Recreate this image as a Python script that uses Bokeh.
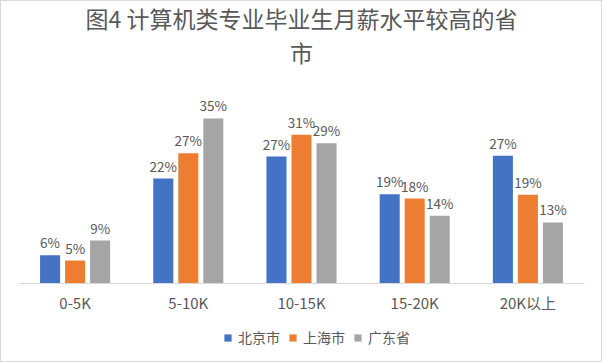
from bokeh.plotting import figure
from bokeh.layouts import column
from bokeh.models import ColumnDataSource, FactorRange, Range1d, Title, Legend, LegendItem
from bokeh.transform import dodge
from bokeh.core.properties import value
from bokeh.embed import file_html
from bokeh.resources import INLINE

categories = ["0-5K", "5-10K", "10-15K", "15-20K", "20K以上"]
series_names = ["北京市", "上海市", "广东省"]
beijing = [5.9, 22.0, 26.6, 18.7, 26.8]
shanghai = [4.8, 27.3, 31.2, 17.8, 18.6]
guangdong = [9.0, 34.6, 29.4, 14.2, 12.8]
colors = ["#4472C4", "#ED7D31", "#A5A5A5"]
title_line1 = "图4 计算机类专业毕业生月薪水平较高的省"
title_line2 = "市"

FONT = "Noto Sans CJK SC"
TXT = "#595959"

series = [beijing, shanghai, guangdong]
keys = ["bj", "sh", "gd"]
data = {"cat": categories}
for k, s in zip(keys, series):
    data[k] = s
    data[k + "_lbl"] = [f"{round(v)}%" for v in s]
src = ColumnDataSource(data)

W = 600
H_MAIN, H_LEG = 322, 38
p = figure(x_range=FactorRange(*categories), y_range=Range1d(0, 45.07),
           width=W, height=H_MAIN, output_backend="svg", toolbar_location=None,
           y_axis_location=None,
           min_border_left=17, min_border_right=17, min_border_top=67, min_border_bottom=40)
p.title.visible = False
p.outline_line_color = None
p.xgrid.grid_line_color = None
p.ygrid.grid_line_color = None

offsets = [-0.221, 0.0, 0.221]
renderers = []
for k, off, c in zip(keys, offsets, colors):
    r = p.vbar(x=dodge("cat", off, range=p.x_range), top=k, width=0.177, source=src,
               fill_color=c, line_color=None)
    renderers.append(r)
    p.text(x=dodge("cat", off, range=p.x_range), y=k, text=k + "_lbl", source=src,
           text_align="center", text_baseline="alphabetic", y_offset=-13,
           text_font=value(FONT), text_font_size="13.5px", text_color=TXT)

ax = p.xaxis[0]
ax.axis_line_color = "#D9D9D9"
ax.major_tick_line_color = None
ax.minor_tick_line_color = None
ax.major_tick_in = 0
ax.major_tick_out = 0
ax.major_label_standoff = 8
ax.major_label_text_font = FONT
ax.major_label_text_font_size = "15px"
ax.major_label_text_color = TXT

p.add_layout(Title(text=title_line2, align="center", text_font=FONT, text_font_size="23px",
                   text_color=TXT, text_font_style="normal", standoff=0), "above")
p.add_layout(Title(text=title_line1, align="center", text_font=FONT, text_font_size="23px",
                   text_color=TXT, text_font_style="normal", standoff=-5), "above")

# legend strip below the chart
p2 = figure(width=W, height=H_LEG, x_range=p.x_range, y_range=Range1d(-2, -1),
            output_backend="svg", toolbar_location=None,
            x_axis_location=None, y_axis_location=None, min_border=0)
p2.title.visible = False
p2.outline_line_color = None
p2.grid.visible = False
leg_renderers = [p2.vbar(x=dodge("cat", off, range=p.x_range), top=k, width=0.177, source=src,
                         fill_color=c, line_color=None, visible=False)
                 for k, off, c in zip(keys, offsets, colors)]
legend = Legend(items=[LegendItem(label=n, renderers=[r], index=0)
                       for n, r in zip(series_names, leg_renderers)],
                orientation="horizontal", location=(205, 14),
                glyph_width=9, glyph_height=9, label_standoff=6, spacing=8,
                padding=0, margin=0, border_line_color=None, background_fill_alpha=0,
                label_text_font=FONT, label_text_font_size="14px", label_text_color=TXT)
p2.add_layout(legend)

layout = column(p, p2, spacing=0, styles={"border": "1px solid #D9D9D9"})
open("out.html", "w").write(file_html(layout, INLINE))
